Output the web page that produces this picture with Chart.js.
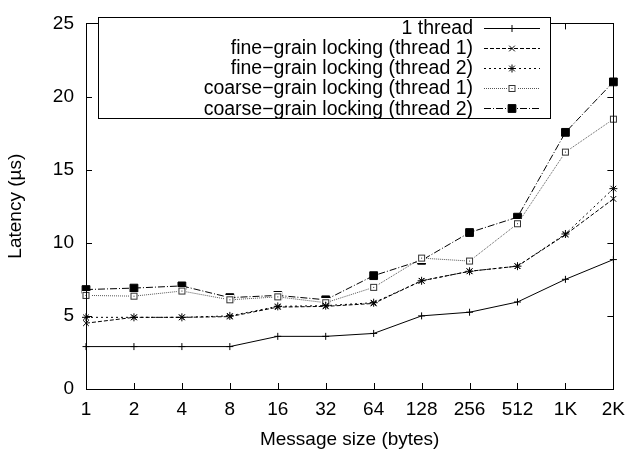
<!DOCTYPE html>
<html>
<head>
<meta charset="utf-8">
<script src="https://cdn.jsdelivr.net/npm/chart.js@4/dist/chart.umd.min.js"></script>
<style>
  body { margin: 0; background: #fff; }
  #wrap { width: 634px; height: 453px; }
</style>
</head>
<body>
<div id="wrap"><canvas id="chart"></canvas></div>
<script>
var sizes = ["1", "2", "4", "8", "16", "32", "64", "128", "256", "512", "1K", "2K"];

var oneThread   = [2.9, 2.9, 2.9, 2.9, 3.6, 3.6, 3.8, 5.0, 5.25, 5.95, 7.5, 8.85];
var fineT1      = [4.5, 4.9, 4.9, 4.95, 5.6, 5.65, 5.85, 7.4, 8.05, 8.4, 10.55, 13.0];
var fineT2      = [4.9, 4.9, 4.9, 5.0, 5.65, 5.7, 5.9, 7.4, 8.05, 8.4, 10.6, 13.7];
var coarseT1    = [6.4, 6.35, 6.7, 6.1, 6.3, 5.9, 6.95, 8.95, 8.75, 11.3, 16.2, 18.45];
var coarseT2    = [6.8, 6.9, 7.05, 6.25, 6.4, 6.1, 7.75, 8.8, 10.7, 11.75, 17.55, 21.0];

var yTicks = [0, 5, 10, 15, 20, 25];

var FONT = "'Liberation Sans', Arial, Helvetica, sans-serif";

// open square with a dot in the middle (gnuplot pt 4-ish)
function dotSquare(col) {
    var c = document.createElement("canvas");
    c.width = 9; c.height = 9;
    var g = c.getContext("2d");
    g.fillStyle = "#fff";
    g.fillRect(0, 0, 9, 9);
    g.strokeStyle = col;
    g.lineWidth = 1;
    g.strokeRect(1.5, 1.5, 6, 6);
    g.fillStyle = col;
    g.fillRect(4, 4, 1, 1);
    return c;
}

// frame + inward ticks on all four sides, gnuplot style
var framePlugin = {
    id: "frame",
    afterDatasetsDraw: function(chart) {
        var ctx = chart.ctx;
        var a = chart.chartArea;
        var xs = chart.scales.x, ys = chart.scales.y;
        ctx.save();
        ctx.strokeStyle = "#000";
        ctx.lineWidth = 1;
        ctx.setLineDash([]);
        ctx.beginPath();
        for (var i = 0; i < sizes.length; i++) {
            var px = Math.round(xs.getPixelForValue(i)) + 0.5;
            ctx.moveTo(px, a.bottom); ctx.lineTo(px, a.bottom - 6);
            ctx.moveTo(px, a.top); ctx.lineTo(px, a.top + 6);
        }
        yTicks.forEach(function(v) {
            var py = Math.round(ys.getPixelForValue(v)) + 0.5;
            ctx.moveTo(a.left, py); ctx.lineTo(a.left + 6, py);
            ctx.moveTo(a.right, py); ctx.lineTo(a.right - 6, py);
        });
        ctx.stroke();
        ctx.strokeRect(Math.round(a.left) + 0.5, Math.round(a.top) + 0.5,
                       Math.round(a.right - a.left), Math.round(a.bottom - a.top));
        ctx.restore();
    }
};

// boxed key in the upper left, text right-aligned, sample on the right
var keyPlugin = {
    id: "key",
    afterDraw: function(chart) {
        var ctx = chart.ctx;
        var box = {x: 98.5, y: 17.5, w: 452, h: 101};
        ctx.save();
        ctx.fillStyle = "#fff";
        ctx.fillRect(box.x, box.y, box.w, box.h);
        ctx.strokeStyle = "#000";
        ctx.lineWidth = 1;
        ctx.strokeRect(box.x, box.y, box.w, box.h);
        ctx.font = "19.5px " + FONT;
        ctx.textAlign = "right";
        ctx.textBaseline = "middle";
        chart.data.datasets.forEach(function(ds, i) {
            var y = 27.5 + i * 20.2;
            ctx.fillStyle = "#000";
            ctx.fillText(ds.label, 473, y + 1);
            ctx.strokeStyle = ds.borderColor;
            ctx.setLineDash(ds.borderDash || []);
            ctx.beginPath();
            ctx.moveTo(484, Math.round(y) + 0.5);
            ctx.lineTo(540, Math.round(y) + 0.5);
            ctx.stroke();
            ctx.setLineDash([]);
            ctx.fillStyle = ds.pointBackgroundColor;
            Chart.helpers.drawPoint(ctx, {
                pointStyle: ds.pointStyle,
                radius: ds.pointRadius,
                borderWidth: 1,
                rotation: 0
            }, 512, Math.round(y) + 0.5);
        });
        ctx.restore();
    }
};

var datasets = [
    {label: "1 thread", data: oneThread, borderColor: "#000", borderDash: [],
     pointStyle: "cross", pointRadius: 3.5, pointBackgroundColor: "#000"},
    {label: "fine\u2212grain locking (thread 1)", data: fineT1, borderColor: "#000", borderDash: [4, 2],
     pointStyle: "crossRot", pointRadius: 4, pointBackgroundColor: "#000"},
    {label: "fine\u2212grain locking (thread 2)", data: fineT2, borderColor: "#000", borderDash: [2, 3],
     pointStyle: "star", pointRadius: 4, pointBackgroundColor: "#000"},
    {label: "coarse\u2212grain locking (thread 1)", data: coarseT1, borderColor: "#555", borderDash: [1, 1],
     pointStyle: dotSquare("#333"), pointRadius: 4.5, pointBackgroundColor: "#fff"},
    {label: "coarse\u2212grain locking (thread 2)", data: coarseT2, borderColor: "#000", borderDash: [7, 2, 1, 2],
     pointStyle: "rect", pointRadius: 5.5, pointBackgroundColor: "#000"}
];
datasets.forEach(function(d) {
    d.borderWidth = 1;
    d.pointBorderColor = d.borderColor;
    d.pointBorderWidth = 1;
    d.pointHoverRadius = d.pointRadius;
    d.tension = 0;
    d.fill = false;
});

new Chart(document.getElementById("chart"), {
    type: "line",
    data: {labels: sizes, datasets: datasets},
    plugins: [framePlugin, keyPlugin],
    options: {
        responsive: true,
        maintainAspectRatio: false,
        animation: false,
        layout: {padding: {top: 13, right: 13, left: 0, bottom: 0}},
        plugins: {legend: {display: false}, tooltip: {enabled: false}},
        scales: {
            x: {
                type: "category",
                offset: false,
                grid: {display: false, drawTicks: false},
                border: {display: false},
                ticks: {color: "#000", font: {family: FONT, size: 19}, padding: 9, maxRotation: 0, autoSkip: false},
                title: {display: true, text: "Message size (bytes)", color: "#000",
                        font: {family: FONT, size: 19}, padding: {top: 0, bottom: 2}},
                afterFit: function(s) { s.height = 64; }
            },
            y: {
                min: 0, max: 25,
                grid: {display: false, drawTicks: false},
                border: {display: false},
                ticks: {stepSize: 5, color: "#000", font: {family: FONT, size: 19}, padding: 12},
                title: {display: true, text: "Latency (\u00b5s)", color: "#000",
                        font: {family: FONT, size: 19}, padding: {top: 4, bottom: 0}},
                afterFit: function(s) { s.width = 86; }
            }
        }
    }
});
</script>
</body>
</html>
